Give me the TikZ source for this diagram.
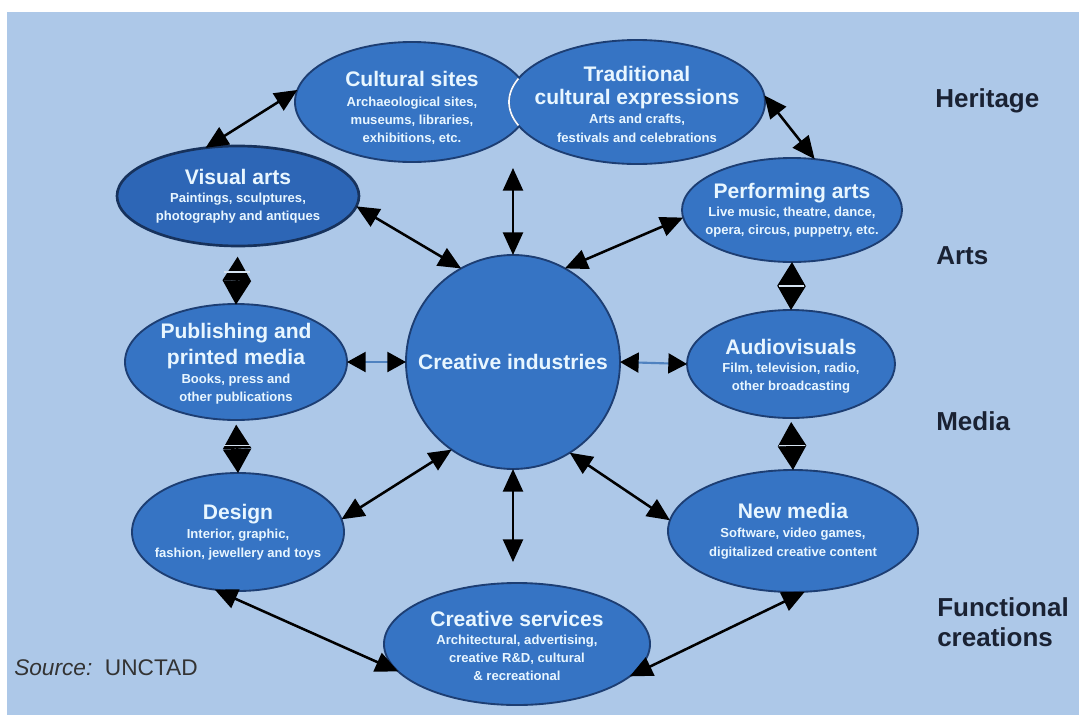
\documentclass[tikz,border=0pt]{standalone}
\usepackage{fontspec}
\setmainfont{Liberation Sans}
\usetikzlibrary{shapes.geometric,arrows.meta}
\definecolor{bg}{HTML}{ADC8E8}
\definecolor{ovalfill}{HTML}{3674C4}
\definecolor{ovalborder}{HTML}{1D3E73}
\definecolor{vafill}{HTML}{2D66B6}
\definecolor{txtc}{HTML}{E8F6FF}
\definecolor{labc}{HTML}{1A2233}
\definecolor{shaft}{HTML}{4F82C0}
\definecolor{sepc}{HTML}{D5E2F0}
\newcommand{\ttlf}{\bfseries\fontsize{15.8}{17.5}\selectfont}
\newcommand{\subf}{\bfseries\fontsize{9.8}{13.6}\selectfont}
\tikzset{
  oval/.style={ellipse, draw=ovalborder, line width=1.4pt, fill=ovalfill, inner sep=0pt, outer sep=0pt},
  txt/.style={text=txtc, align=center, font=\subf, inner sep=0pt},
  lab/.style={text=labc, anchor=west, align=left, font=\bfseries\fontsize{19.5}{22.5}\selectfont, inner sep=0pt},
  link/.style={line width=1.9pt, draw=black, {Triangle[length=17pt,width=15pt]}-{Triangle[length=17pt,width=15pt]}},
  twin/.style={line width=1.8pt, draw=black, {Triangle[length=18pt,width=21pt]}-{Triangle[length=18pt,width=21pt]}},
  flat/.style={line width=1.6pt, draw=shaft, {Triangle[length=14pt,width=15pt,color=black]}-{Triangle[length=14pt,width=15pt,color=black]}},
  sepbar/.style={rectangle, fill=sepc, minimum width=19pt, minimum height=1.3pt, inner sep=0pt}
}
\begin{document}
\begin{tikzpicture}[x=0.75pt,y=-0.75pt]
\useasboundingbox (0,0) rectangle (1079,718);
\fill[white] (0,0) rectangle (1079,718);
\fill[bg] (7,12) rectangle (1079,715);

% ovals
\node[oval, minimum width=175.5pt, minimum height=90pt] (cs) at (412,102) {};
\node[oval, minimum width=192pt, minimum height=93pt] (tce) at (637,102) {};
\begin{scope}
  \clip (412,102) ellipse [x radius=87pt, y radius=44.3pt];
  \draw[white!90!bg, line width=1.3pt] (637,102) ellipse [x radius=96pt, y radius=46.5pt];
\end{scope}
\node[oval, fill=vafill, draw=ovalborder!80!black, line width=2pt, minimum width=181.5pt, minimum height=75pt] (va) at (238,196) {};
\node[oval, minimum width=165pt, minimum height=78pt] (pa) at (792,210) {};
\node[oval, minimum width=166.5pt, minimum height=87pt] (pub) at (236,362) {};
\node[oval, circle, minimum size=160.5pt] (ci) at (513,362) {};
\node[oval, minimum width=156pt, minimum height=81pt] (av) at (791,364) {};
\node[oval, minimum width=159pt, minimum height=88.5pt] (des) at (238,532) {};
\node[oval, minimum width=187.5pt, minimum height=91.5pt] (nm) at (793,531) {};
\node[oval, minimum width=199.5pt, minimum height=91.5pt] (srv) at (517,644) {};

\coordinate (her) at (513,168);
\coordinate (fun) at (513,562);

% connectors
\draw[link] (va.124) -- (cs.174);
\draw[link] (tce.3) -- (pa.66);
\draw[link] (va.-5) -- (ci.119);
\draw[link] (pa.184) -- (ci.61);
\draw[link] (her) -- (ci.north);
\draw[link] (ci.235.7) -- (des.7);
\draw[link] (ci.302.4) -- (nm.175);
\draw[link] (ci.south) -- (fun);
\draw[link] (des.248) -- (srv.193);
\draw[link] (nm.281) -- (srv.344);

\draw[twin, shorten <=8pt, shorten >=-0.5pt] (va.south) -- (pub.north) node[sepbar, pos=0.45] (s1) {};
\draw[twin, shorten <=3.5pt, shorten >=0pt] (pub.south) -- (des.north) node[sepbar, pos=0.48] (s2) {};
\draw[twin, shorten <=0pt, shorten >=0pt] (pa.south) -- (av.north) node[sepbar, midway] (s3) {};
\draw[twin, shorten <=3pt, shorten >=0pt] (av.south) -- (nm.north) node[sepbar, pos=0.53] (s4) {};

\draw[flat] (pub.east) -- (ci.west);
\draw[flat] (ci.east) -- (av.west);

% texts
\node[txt] (cst) at (412,108) {{\ttlf Cultural sites}\\[1pt]Archaeological sites,\\museums, libraries,\\exhibitions, etc.};
\node[txt] (tcet) at (637,104) {{\ttlf Traditional}\\[4pt]{\ttlf cultural expressions}\\[1pt]Arts and crafts,\\festivals and celebrations};
\node[txt] (vat) at (238,196) {{\ttlf Visual arts}\\Paintings, sculptures,\\photography and antiques};
\node[txt] (pat) at (792,210) {{\ttlf Performing arts}\\Live music, theatre, dance,\\opera, circus, puppetry, etc.};
\node[txt] (pubt) at (236,364) {{\ttlf Publishing and}\\[3pt]{\ttlf printed media}\\[1pt]Books, press and\\other publications};
\node[txt] (cit) at (513,362) {{\ttlf Creative industries}};
\node[txt] (avt) at (791,366) {{\ttlf Audiovisuals}\\Film, television, radio,\\other broadcasting};
\node[txt] (dest) at (238,532) {{\ttlf Design}\\[1pt]Interior, graphic,\\fashion, jewellery and toys};
\node[txt] (nmt) at (793,531) {{\ttlf New media}\\[1pt]Software, video games,\\digitalized creative content};
\node[txt] (srvt) at (517,646) {{\ttlf Creative services}\\Architectural, advertising,\\creative R\&D, cultural\\\& recreational};

% side labels
\node[lab] (lh) at (935,101) {Heritage};
\node[lab] (la) at (936,256) {Arts};
\node[lab] (lm) at (936,421) {Media};
\node[lab] (lf) at (937,622) {Functional\\creations};
\node[anchor=west, inner sep=0pt, text=black!80, font=\fontsize{17}{20}\selectfont] (src) at (14,668) {\textit{Source:}\ \ UNCTAD};
\end{tikzpicture}
\end{document}
